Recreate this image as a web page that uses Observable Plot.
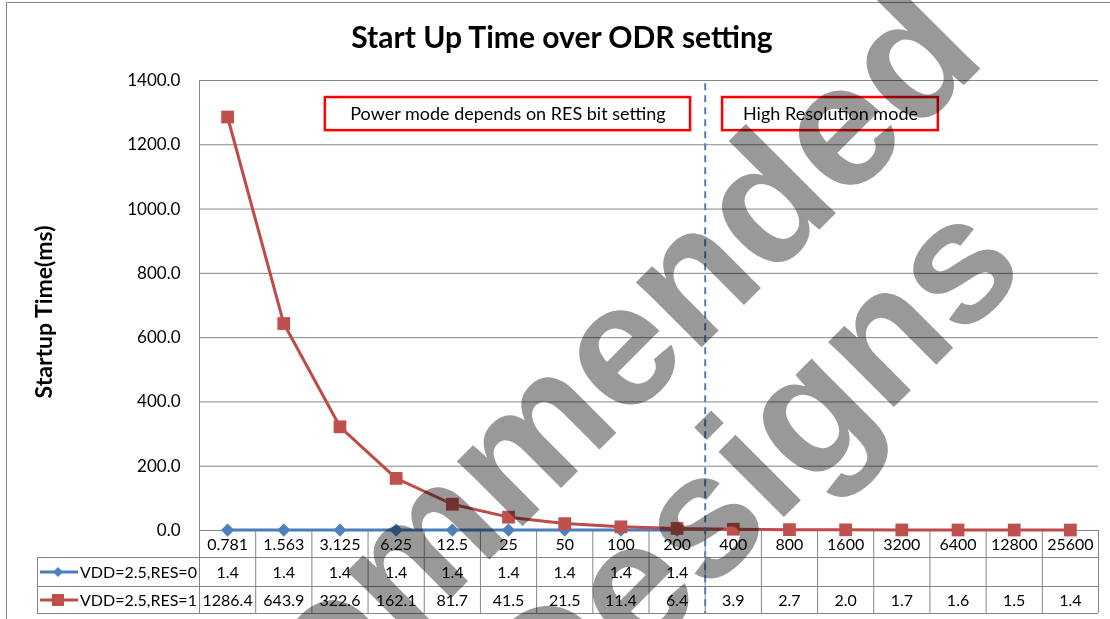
<!DOCTYPE html>
<html>
<head>
<meta charset="utf-8">
<script src="https://cdn.jsdelivr.net/npm/d3@7"></script>
<script src="https://cdn.jsdelivr.net/npm/@observablehq/plot@0.6"></script>
<style>
  html, body { margin: 0; padding: 0; background: #fff; }
  #chart { width: 1110px; height: 619px; overflow: hidden; }
</style>
</head>
<body>
<div id="chart"></div>
<script>
// ---- data ----
const odr = ["0.781","1.563","3.125","6.25","12.5","25","50","100","200","400","800","1600","3200","6400","12800","25600"];
const res0 = [1.4,1.4,1.4,1.4,1.4,1.4,1.4,1.4,1.4];
const res1 = [1286.4,643.9,322.6,162.1,81.7,41.5,21.5,11.4,6.4,3.9,2.7,2.0,1.7,1.6,1.5,1.4];
const seriesNames = ["VDD=2.5,RES=0","VDD=2.5,RES=1"];
const seriesColors = ["#4f81bd","#c0504d"];
const lineColors = ["#4a7ebb","#be4b48"];
const yTicks = [0,200,400,600,800,1000,1200,1400];
const modeSplit = [8.5]; // boundary between ODR 200 and 400
const notes = [
  {text: "Power mode depends on RES bit setting", x1: 1.74, x2: 8.24, y1: 1244, y2: 1347},
  {text: "High Resolution mode", x1: 8.81, x2: 12.65, y1: 1244, y2: 1347}
];
const title = "Start Up Time over ODR setting";
const yLabel = "Startup Time(ms)";
const watermark = ["Recommended", "Designs"];

// ---- layout ----
const W = 1110, H = 619;
const mL = 199, mR = 12, mT = 80, mB = 89;
const k = 1400 / (H - mT - mB); // data units per pixel
const rowH = [27, 56, 83];      // table row bottoms below the axis (px)
const rowMid = [14, 42, 70];
const font = "Lato, 'Open Sans', sans-serif";
const gridColor = "#868686";

const d1 = res1.map((v, i) => ({i, v}));
const d0 = res0.map((v, i) => ({i, v}));
const edges = d3.range(odr.length + 1).map(i => i - 0.5);

const chart = Plot.plot({
  width: W, height: H,
  marginLeft: mL, marginRight: mR, marginTop: mT, marginBottom: mB,
  style: {fontFamily: font, fontSize: "17px", color: "#000", background: "#fff", overflow: "visible"},
  x: {domain: [-0.5, odr.length - 0.5], axis: null},
  y: {domain: [0, 1400], ticks: yTicks, tickSize: 0, tickPadding: 19, tickFormat: d => d.toFixed(1), label: null},
  marks: [
    Plot.ruleY(yTicks, {stroke: gridColor, strokeWidth: 1}),
    // table horizontal lines
    Plot.ruleY([0], {dy: rowH[0], stroke: gridColor, insetLeft: -162}),
    Plot.ruleY([0], {dy: rowH[1], stroke: gridColor, insetLeft: -162}),
    Plot.ruleY([0], {dy: rowH[2], stroke: gridColor, insetLeft: -162}),
    // table vertical lines / y axis line
    Plot.ruleX(edges, {y1: 0, y2: -rowH[2] * k, stroke: gridColor}),
    Plot.ruleX([-0.5], {y1: 1400, y2: 0, stroke: gridColor}),
    // annotation boxes
    Plot.rect(notes, {x1: "x1", x2: "x2", y1: "y1", y2: "y2", stroke: "#ff0000", strokeWidth: 2.5, fill: "none"}),
    Plot.text(notes, {x: d => (d.x1 + d.x2) / 2, y: d => (d.y1 + d.y2) / 2, text: "text", fontSize: 18}),
    // series
    Plot.line(d0, {x: "i", y: "v", stroke: lineColors[0], strokeWidth: 3}),
    Plot.dot(d0, {x: "i", y: "v", symbol: "diamond2", r: 5, fill: seriesColors[0], stroke: seriesColors[0]}),
    Plot.line(d1, {x: "i", y: "v", stroke: lineColors[1], strokeWidth: 3}),
    Plot.dot(d1, {x: "i", y: "v", symbol: "square", r: 7.2, fill: seriesColors[1], stroke: "none"}),
    // dashed mode split line
    Plot.ruleX(modeSplit, {y1: 1390, y2: -rowH[2] * k, stroke: "#4f81bd", strokeWidth: 2, strokeDasharray: "7,5"}),
    // data table
    Plot.text(odr, {x: (d, i) => i, y: () => 0, dy: rowMid[0], text: d => d, fontSize: 16}),
    Plot.text(d0, {x: "i", y: () => 0, dy: rowMid[1], text: d => d.v.toFixed(1), fontSize: 16}),
    Plot.text(d1, {x: "i", y: () => 0, dy: rowMid[2], text: d => d.v.toFixed(1), fontSize: 16})
  ]
});

const svg = d3.select(chart);
// outer chart border
svg.append("path").attr("d", "M6.5,619V2.5H1110").attr("fill", "none").attr("stroke", gridColor);
// table legend column
svg.append("line").attr("x1", 37.5).attr("x2", 37.5).attr("y1", 530 + rowH[0]).attr("y2", 530 + rowH[2]).attr("stroke", gridColor);
const legY = [530 + rowMid[1], 530 + rowMid[2]];
seriesNames.forEach((name, j) => {
  svg.append("line").attr("x1", 40).attr("x2", 78).attr("y1", legY[j]).attr("y2", legY[j])
    .attr("stroke", lineColors[j]).attr("stroke-width", 3);
  if (j === 0) {
    svg.append("path").attr("d", `M58,${legY[j]-5}L63,${legY[j]}L58,${legY[j]+5}L53,${legY[j]}Z`).attr("fill", seriesColors[0]);
  } else {
    svg.append("rect").attr("x", 52).attr("y", legY[j] - 6).attr("width", 12).attr("height", 12).attr("fill", seriesColors[1]);
  }
  svg.append("text").attr("x", 80).attr("y", legY[j]).attr("dy", "0.35em").attr("text-anchor", "start")
    .attr("font-size", 16).attr("font-family", font).text(name);
});
// title
svg.append("text").attr("x", 562).attr("y", 48).attr("text-anchor", "middle")
  .attr("font-size", 30).attr("font-weight", "bold").attr("font-family", font).text(title);
// y label
svg.append("text").attr("transform", "translate(52,312) rotate(-90)").attr("text-anchor", "middle")
  .attr("font-size", 23).attr("font-weight", "bold").attr("font-family", font).text(yLabel);
// watermark
const wm = svg.append("g").style("mix-blend-mode", "multiply").attr("fill", "#999")
  .attr("font-family", "'Liberation Sans', Arial, sans-serif").attr("font-weight", "bold").attr("font-size", 175)
  .attr("text-anchor", "middle");
wm.append("text").attr("transform", "translate(545,504) rotate(-45)").text(watermark[0]);
wm.append("text").attr("transform", "translate(789,512) rotate(-45)").text(watermark[1]);

document.getElementById("chart").appendChild(chart);
</script>
</body>
</html>
